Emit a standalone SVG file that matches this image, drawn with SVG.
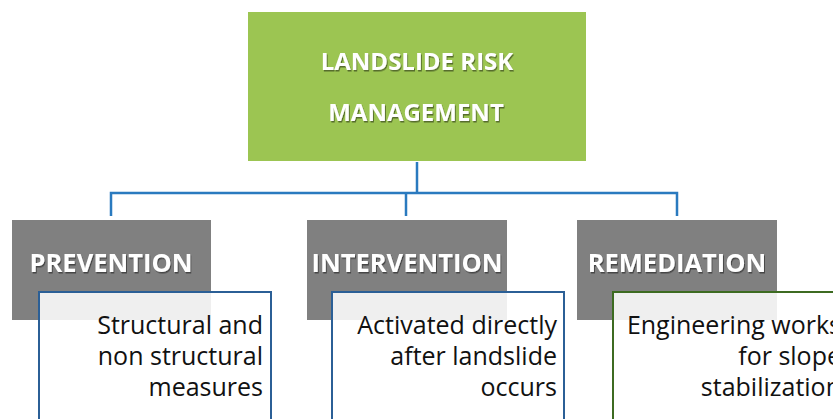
<svg xmlns="http://www.w3.org/2000/svg" width="833" height="419" viewBox="0 0 833 419">
  <defs>
    <filter id="shadow" x="-10%" y="-30%" width="120%" height="160%">
      <feDropShadow dx="1" dy="1.5" stdDeviation="0.7" flood-color="#000" flood-opacity="0.45"/>
    </filter>
  </defs>
  <style>
    .root { fill: #9cc552; }
    .cat { fill: #808080; }
    .title { font-family: "Open Sans", "Liberation Sans", sans-serif; font-weight: bold; fill: #ffffff; text-anchor: middle; filter: url(#shadow); }
    .desc { fill: #ffffff; fill-opacity: 0.87; stroke-width: 2; }
    .blue { stroke: #2b5f96; }
    .green { stroke: #3d6b21; }
    .body { font-family: "Open Sans", "Liberation Sans", sans-serif; font-size: 25px; fill: #111111; text-anchor: end; }
    .wire { fill: none; stroke: #2a7abf; stroke-width: 2.5; }
  </style>

  <!-- tree connectors -->
  <g id="connectors">
    <path class="wire" d="M417 162 V193"/>
    <path class="wire" d="M111 216 V193 H677 V216"/>
    <path class="wire" d="M406 193 V216"/>
  </g>

  <!-- top node -->
  <g id="risk-management">
    <rect class="root" x="248" y="12" width="338" height="149"/>
    <text class="title" x="417" y="70" font-size="24">LANDSLIDE RISK</text>
    <text class="title" x="416" y="121" font-size="24">MANAGEMENT</text>
  </g>

  <!-- prevention -->
  <g id="prevention">
    <rect class="cat" x="12" y="220" width="199" height="100"/>
    <text class="title" x="111" y="272" font-size="25.5">PREVENTION</text>
    <rect class="desc blue" x="39" y="292" width="232" height="140"/>
    <text class="body" x="263" y="334">Structural and</text>
    <text class="body" x="263" y="365">non structural</text>
    <text class="body" x="263" y="396">measures</text>
  </g>

  <!-- intervention -->
  <g id="intervention">
    <rect class="cat" x="307" y="220" width="200" height="100"/>
    <text class="title" x="407" y="272" font-size="25.5">INTERVENTION</text>
    <rect class="desc blue" x="332" y="292" width="232" height="140"/>
    <text class="body" x="557" y="334">Activated directly</text>
    <text class="body" x="557" y="365">after landslide</text>
    <text class="body" x="557" y="396">occurs</text>
  </g>

  <!-- remediation -->
  <g id="remediation">
    <rect class="cat" x="577" y="220" width="200" height="100"/>
    <text class="title" x="677" y="272" font-size="25.5">REMEDIATION</text>
    <rect class="desc green" x="613" y="292" width="232" height="140"/>
    <text class="body" x="841" y="334">Engineering works</text>
    <text class="body" x="841" y="365">for slope</text>
    <text class="body" x="841" y="396">stabilization</text>
  </g>
</svg>
